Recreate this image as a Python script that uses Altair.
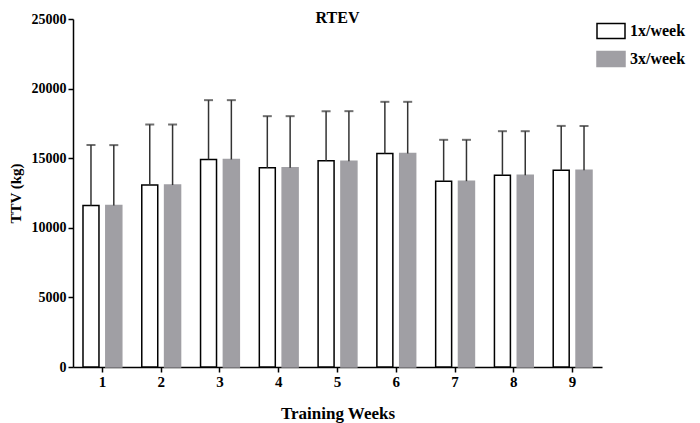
import altair as alt
import pandas as pd

weeks = ["1", "2", "3", "4", "5", "6", "7", "8", "9"]
groups = ["1x/week", "3x/week"]
mean_1x = [11600, 13070, 14910, 14310, 14810, 15340, 13350, 13780, 14140]
mean_3x = [11600, 13070, 14910, 14310, 14780, 15340, 13350, 13780, 14140]
sd_1x = [4340, 4350, 4260, 3710, 3570, 3710, 2970, 3160, 3180]
sd_3x = [4340, 4350, 4260, 3710, 3600, 3710, 2970, 3160, 3180]
y_ticks = [0, 5000, 10000, 15000, 20000, 25000]
chart_title = ["RTEV"]

rows = []
for i, w in enumerate(weeks):
    rows.append(dict(week=w, group=groups[0], mean=mean_1x[i], sd=sd_1x[i]))
    rows.append(dict(week=w, group=groups[1], mean=mean_3x[i], sd=sd_3x[i]))
df = pd.DataFrame(rows)

FONT = "Liberation Serif"

x_enc = alt.X(
    "week:N", sort=weeks,
    scale=alt.Scale(paddingInner=0.34, paddingOuter=0.17),
    axis=alt.Axis(title="Training Weeks", labelAngle=0, tickSize=5, labelPadding=2,
                  labelFontSize=15, titleFontSize=17, titlePadding=16),
)
xo_enc = alt.XOffset("group:N", sort=groups, scale=alt.Scale(paddingInner=0.3, paddingOuter=0))
y_scale = alt.Scale(domain=[0, 25000], nice=False)
y_axis = alt.Axis(title="TTV (kg)", values=y_ticks, format="d", tickSize=5, labelPadding=2,
                  labelFontSize=14, titleFontSize=15, titlePadding=8, grid=False)

legend = alt.Legend(
    title=None, orient="none", legendX=530, legendY=4, direction="vertical",
    symbolType="M-2,-1.07H2V1.07H-2Z", symbolSize=196, symbolStrokeWidth=1.5,
    labelFont=FONT, labelFontWeight="bold", labelFontSize=16, labelOffset=11,
    rowPadding=6, labelColor="black",
)

base = alt.Chart(df)

bars = base.mark_bar(strokeWidth=1.5).encode(
    x=x_enc, xOffset=xo_enc,
    y=alt.Y("mean:Q", scale=y_scale, axis=y_axis),
    fill=alt.Fill("group:N", sort=groups, scale=alt.Scale(domain=groups, range=["white", "#a09fa4"]), legend=legend),
    stroke=alt.Stroke("group:N", sort=groups, scale=alt.Scale(domain=groups, range=["black", "#a09fa4"]), legend=legend),
)

err = base.transform_calculate(upper="datum.mean + datum.sd")

rules = err.mark_rule(color="#333333", strokeWidth=1.5).encode(
    x=x_enc, xOffset=xo_enc,
    y=alt.Y("mean:Q", scale=y_scale, axis=y_axis),
    y2="upper:Q",
)

caps = err.mark_tick(color="#333333", thickness=2, size=9).encode(
    x=x_enc, xOffset=xo_enc,
    y=alt.Y("upper:Q", scale=y_scale, axis=y_axis),
)

title_text = alt.Chart(pd.DataFrame({"t": chart_title})).mark_text(
    font=FONT, fontSize=16, fontWeight="bold", color="black", align="center", baseline="alphabetic",
).encode(x=alt.value(264.5), y=alt.value(4), text="t:N")

chart = alt.layer(bars, rules, caps, title_text).properties(
    width=529, height=348,
    autosize=alt.AutoSizeParams(type="none"),
    padding={"left": 65, "top": 11, "right": 90, "bottom": 56},
).configure_view(stroke=None).configure_axis(
    labelFont=FONT, titleFont=FONT, labelFontWeight="bold", titleFontWeight="bold",
    labelColor="black", titleColor="black", domainColor="black", tickColor="black",
    domainWidth=1.5, tickWidth=1.5,
)

chart.save("out.html", embed_options={"renderer": "svg", "actions": False})
